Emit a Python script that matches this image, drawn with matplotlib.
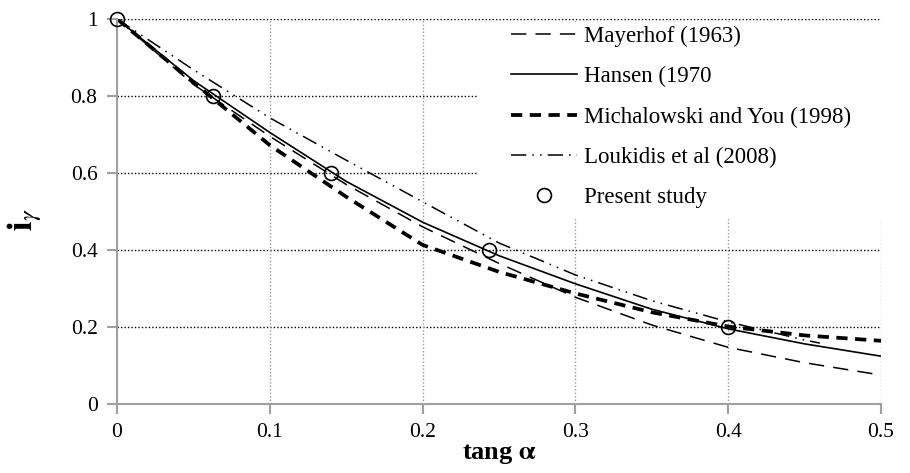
import numpy as np
import matplotlib
matplotlib.use("Agg")
import matplotlib.pyplot as plt
from matplotlib.patches import Rectangle

plt.rcParams["font.family"] = ["Liberation Serif", "DejaVu Serif"]
plt.rcParams["mathtext.fontset"] = "stix"

# ── data
tan_a = [0, 0.05, 0.1, 0.15, 0.2, 0.25, 0.3, 0.35, 0.4, 0.45, 0.5]
meyerhof = [1.0, 0.83, 0.695, 0.57, 0.46, 0.365, 0.277, 0.205, 0.147, 0.107, 0.075]
hansen = [1.0, 0.84, 0.705, 0.578, 0.472, 0.385, 0.312, 0.246, 0.195, 0.156, 0.124]
michalowski = [1.0, 0.835, 0.672, 0.538, 0.413, 0.343, 0.287, 0.238, 0.201, 0.178, 0.164]

tan_louk = [0, 0.05, 0.1, 0.15, 0.2, 0.25, 0.3, 0.35, 0.4, 0.45, 0.46]
loukidis = [1.0, 0.868, 0.743, 0.633, 0.525, 0.418, 0.335, 0.268, 0.213, 0.166, 0.158]

tan_present = [0, 0.0625, 0.14, 0.2435, 0.4]
present = [1.0, 0.8, 0.6, 0.4, 0.2]

fig = plt.figure(figsize=(9.1, 4.73), dpi=100)
ax = fig.add_axes([0.1286, 0.146, 0.8396, 0.814])

ax.plot(tan_a, meyerhof, color="black", lw=1.1, dashes=(10, 6),
        label="Mayerhof (1963)")
ax.plot(tan_a, hansen, color="black", lw=1.2, label="Hansen (1970")
ax.plot(tan_a, michalowski, color="black", lw=2.7, dashes=(3, 2),
        label="Michalowski and You (1998)")
ax.plot(tan_louk, loukidis, color="black", lw=1.1,
        dashes=(10, 4, 1, 4, 1, 4), label="Loukidis et al (2008)")
ax.plot(tan_present, present, "o", mfc="none", mec="black", ms=10, mew=1.2,
        ls="none", clip_on=False, zorder=5, label="Present study")

ax.set_xlim(0, 0.5)
ax.set_ylim(0, 1)
ax.set_xticks([0, 0.1, 0.2, 0.3, 0.4, 0.5])
ax.set_xticklabels(["0", "0.1", "0.2", "0.3", "0.4", "0.5"])
ax.set_yticks([0, 0.2, 0.4, 0.6, 0.8, 1.0])
ax.set_yticklabels(["0", "0.2", "0.4", "0.6", "0.8", "1"])
ax.tick_params(labelsize=15.5, color="#a0a0a0", length=7, width=1.5)
ax.tick_params(axis="x", pad=7)
ax.tick_params(axis="y", pad=7)

for s in ["top", "right"]:
    ax.spines[s].set_visible(False)
for s in ["left", "bottom"]:
    ax.spines[s].set_color("#a0a0a0")
    ax.spines[s].set_linewidth(1.5)

# grid: black dotted horizontals, grey dotted verticals
for yv in [0.2, 0.4, 0.6, 0.8, 1.0]:
    ax.axhline(yv, color="black", lw=1.0, ls=(0, (1, 1.5)), zorder=0)
for xv in [0.1, 0.2, 0.3, 0.4, 0.5]:
    ax.axvline(xv, color="#999999", lw=1.0, ls=(0, (1, 1.5)), zorder=0)

# white block behind the legend (hides grid there)
ax.add_patch(Rectangle((0.471, 0.483), 0.54, 0.509, transform=ax.transAxes,
                       facecolor="white", edgecolor="none", zorder=1,
                       clip_on=False))

ax.set_xlabel(r"tang $\mathbf{\alpha}$", fontsize=19, fontweight="bold", labelpad=0)
ax.set_ylabel(r"$\mathbf{i}_{\gamma}$", fontsize=25)
ax.yaxis.set_label_coords(-0.095, 0.48)

leg = ax.legend(loc="upper right", bbox_to_anchor=(0.982, 1.024), fontsize=16.5,
                frameon=False, handlelength=2.9, labelspacing=0.84,
                handletextpad=0.3, borderpad=0.2)
leg.set_zorder(4)

fig.savefig("out.png", dpi=100)
